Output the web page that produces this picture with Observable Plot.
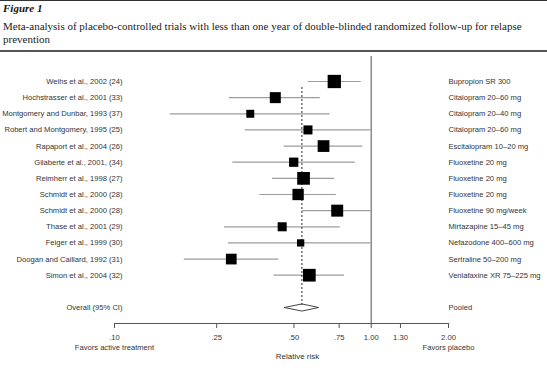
<!DOCTYPE html>
<html>
<head>
<meta charset="utf-8">
<script src="https://cdn.jsdelivr.net/npm/d3@7"></script>
<script src="https://cdn.jsdelivr.net/npm/@observablehq/plot@0.6"></script>
<style>
  html, body { margin: 0; padding: 0; background: #fff; }
  #wrap { width: 547px; height: 376px; position: relative; overflow: hidden; }
  #hdr { position: relative; height: 49px; border-top: 1px solid #333; border-bottom: 2px solid #555; }
  #fig { position: absolute; left: 3px; top: 1px; font-family: "Liberation Serif", serif; font-weight: bold; font-style: italic; font-size: 11px; line-height: 12px; color: #111; }
  #sub { position: absolute; left: 3px; top: 19px; font-family: "Liberation Serif", serif; font-size: 11px; line-height: 13px; color: #222; letter-spacing: 0px; white-space: nowrap; }
  #chart { position: absolute; left: 0; top: 52px; }
</style>
</head>
<body>
<div id="wrap">
  <div id="hdr">
    <div id="fig">Figure 1</div>
    <div id="sub">Meta-analysis of placebo-controlled trials with less than one year of double-blinded randomized follow-up for relapse<br>prevention</div>
  </div>
  <div id="chart"></div>
</div>
<script>
const studies = [
  "Weihs et al., 2002 (24)",
  "Hochstrasser et al., 2001 (33)",
  "Montgomery and Dunbar, 1993 (37)",
  "Robert and Montgomery, 1995 (25)",
  "Rapaport et al., 2004 (26)",
  "Gilaberte et al., 2001, (34)",
  "Reimherr et al., 1998 (27)",
  "Schmidt et al., 2000 (28)",
  "Schmidt et al., 2000 (28)",
  "Thase et al., 2001 (29)",
  "Feiger et al., 1999 (30)",
  "Doogan and Caillard, 1992 (31)",
  "Simon et al., 2004 (32)"
];
const drugs = [
  "Bupropion SR 300",
  "Citalopram 20\u201360 mg",
  "Citalopram 20\u201340 mg",
  "Citalopram 20\u201360 mg",
  "Escitalopram 10\u201320 mg",
  "Fluoxetine 20 mg",
  "Fluoxetine 20 mg",
  "Fluoxetine 20 mg",
  "Fluoxetine 90 mg/week",
  "Mirtazapine 15\u201345 mg",
  "Nefazodone 400\u2013600 mg",
  "Sertraline 50\u2013200 mg",
  "Venlafaxine XR 75\u2013225 mg"
];
const rr     = [0.718, 0.423, 0.338, 0.567, 0.652, 0.499, 0.545, 0.519, 0.737, 0.450, 0.531, 0.285, 0.574];
const lower  = [0.568, 0.280, 0.165, 0.323, 0.458, 0.289, 0.413, 0.368, 0.540, 0.268, 0.278, 0.187, 0.418];
const upper  = [0.914, 0.633, 0.692, 1.000, 0.928, 0.867, 0.720, 0.731, 1.000, 0.757, 1.000, 0.436, 0.787];
const weights = [11.7, 8.0, 4.2, 5.4, 9.1, 5.7, 10.7, 8.5, 9.5, 5.4, 3.5, 7.6, 10.7];

const pooledLabel = "Overall (95% CI)";
const pooledGroup = "Pooled";
const pooledRR = 0.537;
const pooledLower = 0.459;
const pooledUpper = 0.624;

const xTicks = [0.1, 0.25, 0.5, 0.75, 1, 1.3, 2];
const xTickLabels = [".10", ".25", ".50", ".75", "1.00", "1.30", "2.00"];
const favorLeft = "Favors active treatment";
const favorRight = "Favors placebo";
const xTitle = "Relative risk";

const rows = studies.map((s, i) => ({i, study: s, drug: drugs[i], rr: rr[i], lower: lower[i], upper: upper[i], w: weights[i]}));
const pooledIndex = studies.length + 1;
const pooled = {i: pooledIndex, study: pooledLabel, drug: pooledGroup, rr: pooledRR, lower: pooledLower, upper: pooledUpper};
const labelRows = [...rows, pooled];
const dh = 0.22;
const diamond = [
  {x: pooled.lower, y: pooledIndex},
  {x: pooled.rr, y: pooledIndex - dh},
  {x: pooled.upper, y: pooledIndex},
  {x: pooled.rr, y: pooledIndex + dh},
  {x: pooled.lower, y: pooledIndex}
];

const tickText = (d) => {
  const k = xTicks.indexOf(d);
  let s = xTickLabels[k];
  if (k === 0) s += "\n" + favorLeft;
  if (k === xTicks.length - 1) s += "\n" + favorRight;
  return s;
};

const chart = Plot.plot({
  width: 547,
  height: 324,
  marginLeft: 114,
  marginRight: 99,
  marginTop: 4,
  marginBottom: 53,
  style: {fontFamily: "Liberation Sans, Arial, sans-serif", fontSize: "7.6px", color: "#333", background: "white"},
  x: {type: "log", domain: [0.1, 2]},
  y: {domain: [0, pooledIndex], range: [29, 255], axis: null},
  r: {type: "sqrt", domain: [0, d3.max(weights)], range: [0, 7.5]},
  marks: [
    Plot.ruleX([1], {stroke: "#7a7a7a", strokeWidth: 1.3}),
    Plot.ruleY(rows, {y: "i", x1: "lower", x2: "upper", stroke: "#9c9c9c", strokeWidth: 1.2}),
    Plot.ruleX([pooled], {x: "rr", y1: () => 0, y2: "i", stroke: "#111", strokeWidth: 0.9, strokeDasharray: "2,2", insetTop: 6}),
    Plot.dot(rows, {x: "rr", y: "i", r: "w", symbol: "square", fill: "black", stroke: "none"}),
    Plot.line(diamond, {x: "x", y: "y", stroke: "#444", strokeWidth: 1, fill: "none"}),
    Plot.text(labelRows, {y: "i", text: "study", frameAnchor: "left", textAnchor: "end", dx: 8, fill: "#333"}),
    Plot.text(labelRows, {y: "i", text: "drug", frameAnchor: "right", textAnchor: "start", dx: 0, fill: "#333"}),
    Plot.frame({anchor: "bottom", stroke: "#555"}),
    Plot.axisX({ticks: xTicks, tickFormat: tickText, tickSize: 5, tickPadding: 4, stroke: "#555", fill: "#333", lineHeight: 1.35, label: null}),
    Plot.text([xTitle], {frameAnchor: "bottom", dy: 35, dx: 16, fill: "#333", fontSize: 8})
  ]
});
document.getElementById("chart").appendChild(chart);
</script>
</body>
</html>
